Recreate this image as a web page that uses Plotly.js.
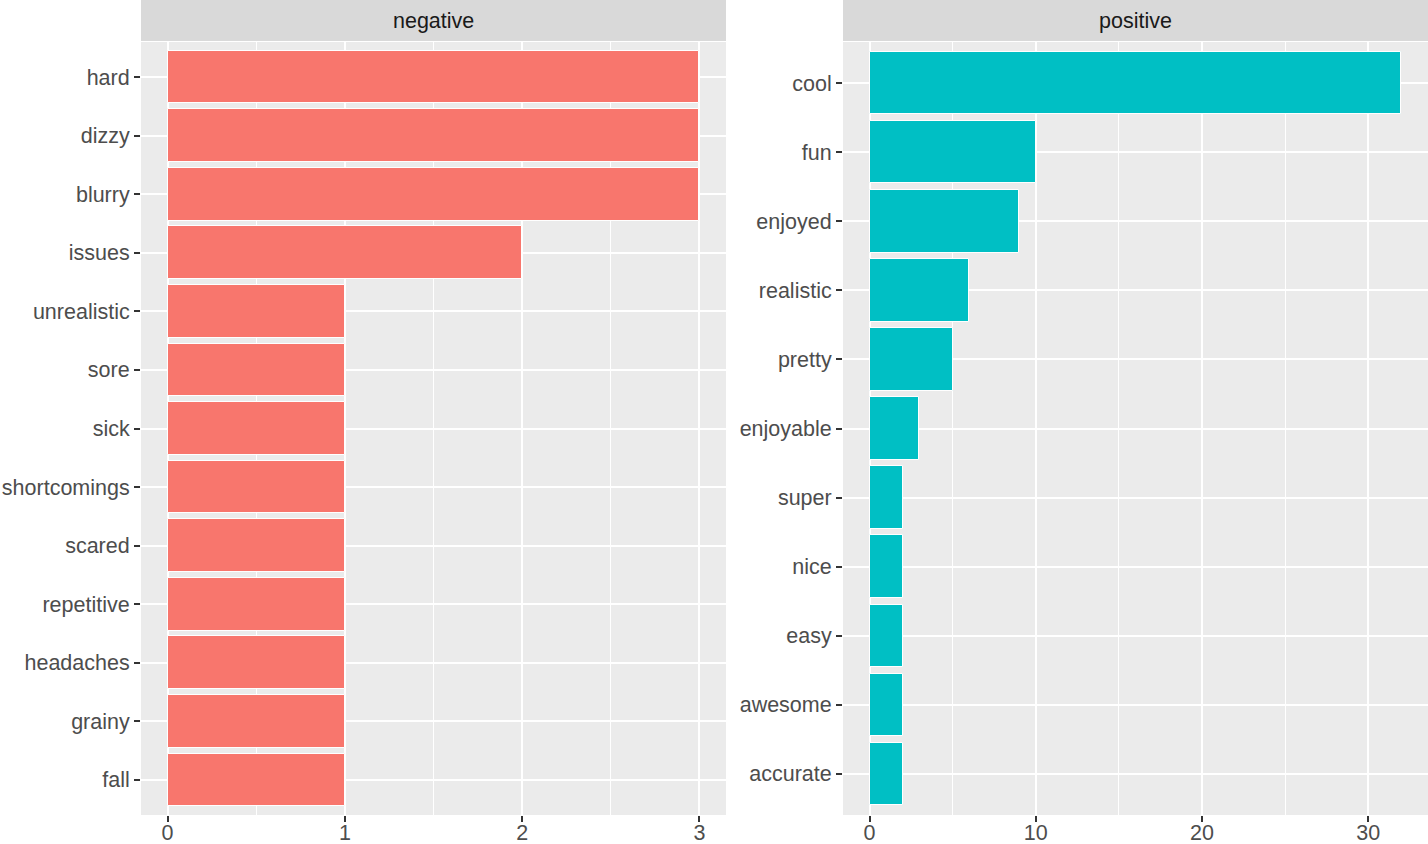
<!DOCTYPE html>
<html>
<head>
<meta charset="utf-8">
<script src="https://cdn.plot.ly/plotly-3.0.1.min.js"></script>
<style>html,body{margin:0;padding:0;background:#fff;}#chart{width:1428px;height:844px;}</style>
</head>
<body>
<div id="chart"></div>
<script>
// Data (top-to-bottom order as shown)
const negWords = ["hard","dizzy","blurry","issues","unrealistic","sore","sick","shortcomings","scared","repetitive","headaches","grainy","fall"];
const negCounts = [3,3,3,2,1,1,1,1,1,1,1,1,1];
const posWords = ["cool","fun","enjoyed","realistic","pretty","enjoyable","super","nice","easy","awesome","accurate"];
const posCounts = [32,10,9,6,5,3,2,2,2,2,2];
const panels = ["negative","positive"];
const negTicks = [0,1,2,3];
const posTicks = [0,10,20,30];

const W = 1428, H = 844;
const font = '"Liberation Sans", Arial, sans-serif';
const fs = 21.5;
const panelTop = 42, panelBottom = 815;
const yDom = [(H - panelBottom) / H, (H - panelTop) / H];

function xrange(vals){ const m = Math.max(...vals); return [-0.05*m, 1.05*m]; }

const traces = [
  {type:'bar', orientation:'h', x:negCounts, y:negWords, xaxis:'x', yaxis:'y',
   width:0.9, marker:{color:'#F8766D', line:{color:'#ffffff', width:1}}, hoverinfo:'x+y'},
  {type:'bar', orientation:'h', x:posCounts, y:posWords, xaxis:'x2', yaxis:'y2',
   width:0.9, marker:{color:'#00BFC4', line:{color:'#ffffff', width:1}}, hoverinfo:'x+y'}
];

const axCommon = {
  showline:false, zeroline:false, gridcolor:'#ffffff', gridwidth:2.4,
  ticks:'outside', ticklen:6, tickwidth:2, tickcolor:'#333333',
  tickfont:{family:font, size:fs, color:'#4D4D4D'}, fixedrange:true
};

const layout = {
  width:W, height:H, margin:{l:0,r:0,t:0,b:0},
  paper_bgcolor:'#ffffff', plot_bgcolor:'#EBEBEB', showlegend:false, bargap:0,
  font:{family:font, size:fs, color:'#4D4D4D'},
  xaxis: Object.assign({}, axCommon, {domain:[141/W, 726/W], anchor:'y', range:xrange(negCounts),
    tickvals:negTicks, ticktext:negTicks.map(String), ticklabelstandoff:-8,
    minor:{dtick:0.5, tick0:0, showgrid:true, gridcolor:'#ffffff', gridwidth:1.2, ticks:''}}),
  yaxis: Object.assign({}, axCommon, {domain:yDom, anchor:'x', type:'category',
    categoryorder:'array', categoryarray:negWords.slice().reverse(),
    range:[-0.6, negWords.length - 0.4]}),
  xaxis2: Object.assign({}, axCommon, {domain:[843/W, 1428/W], anchor:'y2', range:xrange(posCounts),
    tickvals:posTicks, ticktext:posTicks.map(String), ticklabelstandoff:-8,
    minor:{dtick:5, tick0:0, showgrid:true, gridcolor:'#ffffff', gridwidth:1.2, ticks:''}}),
  yaxis2: Object.assign({}, axCommon, {domain:yDom, anchor:'x2', type:'category',
    categoryorder:'array', categoryarray:posWords.slice().reverse(),
    range:[-0.6, posWords.length - 0.4]}),
  shapes:[
    {type:'rect', xref:'paper', yref:'paper', x0:141/W, x1:726/W, y0:(H-41)/H, y1:1, fillcolor:'#D9D9D9', line:{width:0}, layer:'below'},
    {type:'rect', xref:'paper', yref:'paper', x0:843/W, x1:1, y0:(H-41)/H, y1:1, fillcolor:'#D9D9D9', line:{width:0}, layer:'below'}
  ],
  annotations:[
    {xref:'paper', yref:'paper', x:(141+726)/2/W, y:(H-21)/H, text:panels[0], showarrow:false,
     xanchor:'center', yanchor:'middle', font:{family:font, size:fs, color:'#1A1A1A'}},
    {xref:'paper', yref:'paper', x:(843+1428)/2/W, y:(H-21)/H, text:panels[1], showarrow:false,
     xanchor:'center', yanchor:'middle', font:{family:font, size:fs, color:'#1A1A1A'}}
  ]
};

Plotly.newPlot('chart', traces, layout, {displayModeBar:false, responsive:false});
</script>
</body>
</html>
